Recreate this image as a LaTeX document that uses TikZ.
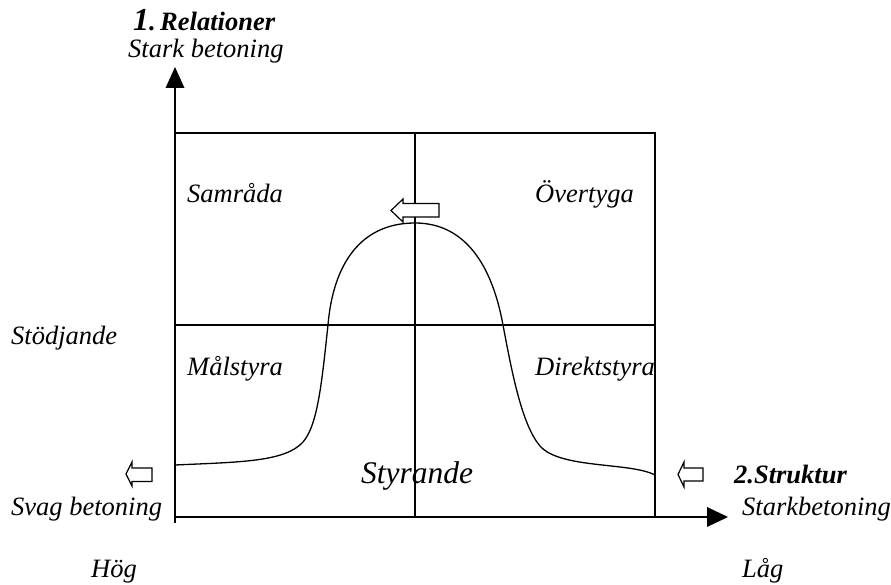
\documentclass[tikz,border=0pt]{standalone}
\usepackage{fontspec}
\setmainfont{Liberation Serif}
\begin{document}
\begin{tikzpicture}[x=1pt,y=-1pt,
  lbl/.style={inner sep=0pt,anchor=base west,font=\fontsize{26.5}{30}\selectfont\itshape},
  blbl/.style={inner sep=0pt,anchor=base west,font=\fontsize{26.5}{30}\selectfont\bfseries\itshape},
  gridline/.style={line width=1.3pt},
  axisline/.style={line width=1.8pt},
  blockarrow/.style={draw=black,fill=white,line width=1.2pt,line join=miter},
  tipfill/.style={fill=black}]
\useasboundingbox (0,0) rectangle (891,585);
% corners
\coordinate (O) at (175,517);
\coordinate (TL) at (175,133);
\coordinate (TR) at (655,133);
\coordinate (BR) at (655,517);
\coordinate (TM) at (415,133);
\coordinate (BM) at (415,517);
\coordinate (ML) at (175,325);
\coordinate (MR) at (655,325);
\coordinate (YB) at (175,523);
\coordinate (YT) at (175,86);
\coordinate (XT) at (709,517);
% texts
\node[lbl] (samr) at (187,203) {Samråda};
\node[lbl] (over) at (535,203) {Övertyga};
\node[lbl] (mals) at (187,375) {Målstyra};
\node[lbl] (dirk) at (535,375) {Direktstyra};
\node[lbl,font=\fontsize{31.5}{34}\selectfont\itshape] (styr) at (361,483) {Styrande};
\node[lbl] (stod) at (11,344) {Stödjande};
\node[lbl] (svag) at (11,515) {Svag betoning};
\node[lbl] (stark) at (742,515) {Starkbetoning};
\node[blbl] (strukt) at (734,483) {2.Struktur};
\node[lbl] (hog) at (91,577) {Hög};
\node[lbl] (lag) at (742,577) {Låg};
\node[lbl] (starkb) at (128,58) {Stark betoning};
\node[blbl] (rel) at (133,31) {{\fontsize{32}{34}\selectfont 1}.\,Relationer};
% grid
\draw[gridline] (TL) -- (TR) -- (BR);
\draw[gridline] (TM) -- (BM);
\draw[gridline] (ML) -- (MR);
% axes
\draw[axisline] (YB) -- (YT);
\draw[axisline] (O) -- (XT);
\fill[tipfill] (175,67) -- (184.5,88) -- (165.5,88) -- cycle;
\fill[tipfill] (728,517) -- (707,507) -- (707,527) -- cycle;
% bell curve
\draw[gridline] (175,465) .. controls (240,462) and (285,462) .. (303,442)
  .. controls (318,425) and (322,380) .. (328,325)
  .. controls (333,265) and (360,223) .. (415,223)
  .. controls (465,223) and (492,265) .. (503,325)
  .. controls (512,373) and (522,425) .. (540,446)
  .. controls (560,469) and (630,462) .. (655,475);
% block arrows
\draw[blockarrow] (391,210.5) -- (403,199) -- (403,203.5) -- (439,203.5) -- (439,217) -- (403,217) -- (403,222) -- cycle;
\draw[blockarrow] (126,474) -- (132,462) -- (132,468) -- (152,468) -- (152,481.5) -- (132,481.5) -- (132,486) -- cycle;
\draw[blockarrow] (678,474.5) -- (684,462) -- (684,468) -- (703,468) -- (703,481) -- (684,481) -- (684,487) -- cycle;
\end{tikzpicture}
\end{document}
